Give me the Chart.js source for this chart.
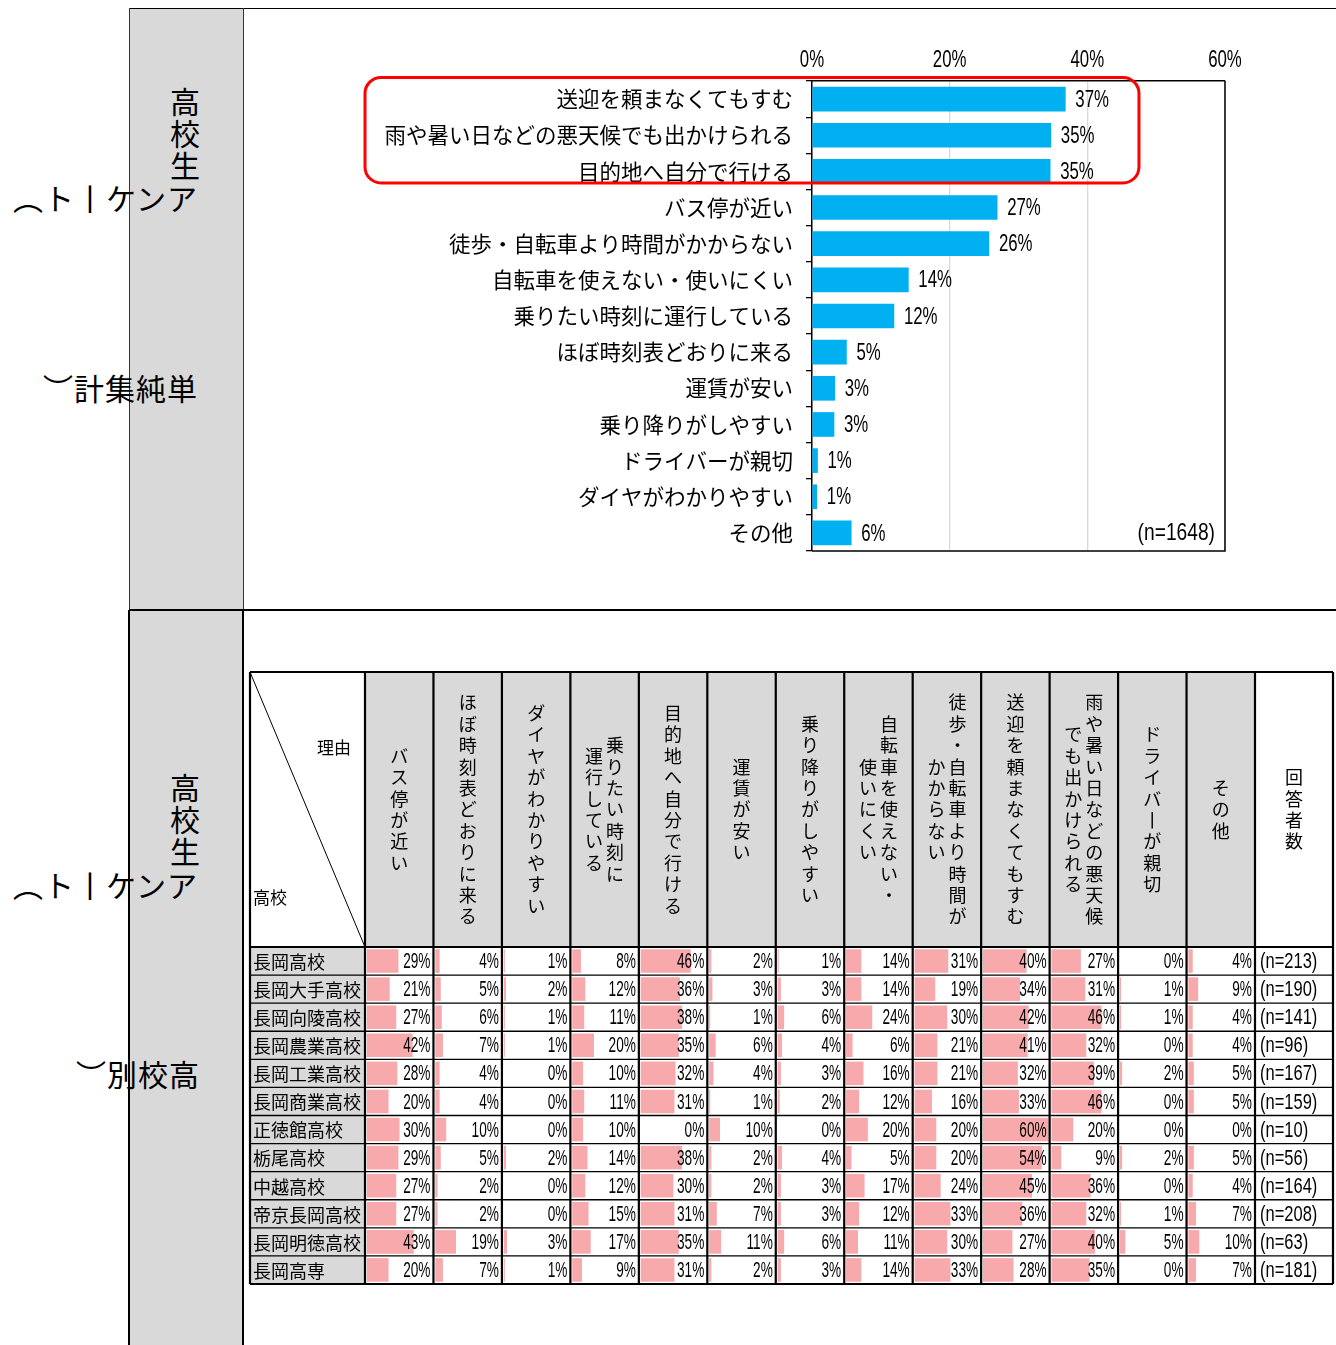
<!DOCTYPE html>
<html lang="ja"><head><meta charset="utf-8">
<script src="https://cdn.jsdelivr.net/npm/chart.js@4.4.0/dist/chart.umd.min.js"></script>
<style>
html,body{margin:0;padding:0;background:#fff;}
body{width:1336px;height:1345px;position:relative;overflow:hidden;font-family:"Noto Sans CJK JP",sans-serif;color:#000;}
.a{position:absolute;}
.ln{position:absolute;background:#000;}
.big{position:absolute;font-size:30px;line-height:33px;white-space:nowrap;letter-spacing:1px;}
.vt{position:absolute;font-size:30px;line-height:32px;width:34px;text-align:center;}
canvas{position:absolute;}
</style></head><body>
<div class="a" style="left:129px;top:8px;width:114px;height:1337px;background:#d9d9d9"></div>
<div class="ln" style="left:129px;top:8px;width:1207px;height:1.3px"></div>
<div class="ln" style="left:128.5px;top:8px;width:1.3px;height:602px;background:#333"></div>
<div class="ln" style="left:242.5px;top:8px;width:1.3px;height:602px;background:#333"></div>
<div class="ln" style="left:129px;top:609px;width:1207px;height:1.5px"></div>
<div class="ln" style="left:128px;top:610px;width:2px;height:735px"></div>
<div class="ln" style="left:242px;top:610px;width:2px;height:735px"></div>

<div class="vt" style="left:168px;top:84px">高<br>校<br>生</div>
<div class="big" style="right:1138px;top:181px">︵ト丨ケンア</div>
<div class="big" style="right:1138px;top:371px">︶計集純単</div>
<div class="vt" style="left:168px;top:770px">高<br>校<br>生</div>
<div class="big" style="right:1138px;top:868px">︵ト丨ケンア</div>
<div class="big" style="right:1136px;top:1057px">︶別校高</div>

<canvas id="topChart" width="1092" height="599" style="left:244px;top:9px"></canvas>
<canvas id="tableChart" width="1091" height="678" style="left:245px;top:612px"></canvas>

<script>
// ---------- Top chart data ----------
const reasons = ['送迎を頼まなくてもすむ', '雨や暑い日などの悪天候でも出かけられる', '目的地へ自分で行ける', 'バス停が近い', '徒歩・自転車より時間がかからない', '自転車を使えない・使いにくい', '乗りたい時刻に運行している', 'ほぼ時刻表どおりに来る', '運賃が安い', '乗り降りがしやすい', 'ドライバーが親切', 'ダイヤがわかりやすい', 'その他'];
const shares = [36.8, 34.7, 34.6, 26.9, 25.7, 14.0, 11.9, 5.0, 3.3, 3.2, 0.8, 0.7, 5.7];
const xTickValues = [0, 20, 40, 60];
const totalRespondents = '(n=1648)';

// ---------- Table data ----------
const schools = ['長岡高校', '長岡大手高校', '長岡向陵高校', '長岡農業高校', '長岡工業高校', '長岡商業高校', '正徳館高校', '栃尾高校', '中越高校', '帝京長岡高校', '長岡明徳高校', '長岡高専'];
const tableColumns = ['バス停が近い', 'ほぼ時刻表どおりに来る', 'ダイヤがわかりやすい', '乗りたい時刻に\n運行している', '目的地へ自分で行ける', '運賃が安い', '乗り降りがしやすい', '自転車を使えない・\n使いにくい', '徒歩・自転車より時間が\nかからない', '送迎を頼まなくてもすむ', '雨や暑い日などの悪天候\nでも出かけられる', 'ドライバーが親切', 'その他'];
const busStopNear   = [29, 21, 27, 42, 28, 20, 30, 29, 27, 27, 43, 20];
const onSchedule    = [4, 5, 6, 7, 4, 4, 10, 5, 2, 2, 19, 7];
const easyTimetable = [1, 2, 1, 1, 0, 0, 0, 2, 0, 0, 3, 1];
const runsWhenWanted= [8, 12, 11, 20, 10, 11, 10, 14, 12, 15, 17, 9];
const goOnMyOwn     = [46, 36, 38, 35, 32, 31, 0, 38, 30, 31, 35, 31];
const cheapFare     = [2, 3, 1, 6, 4, 1, 10, 2, 2, 7, 11, 2];
const easyBoarding  = [1, 3, 6, 4, 3, 2, 0, 4, 3, 3, 6, 3];
const noBicycle     = [14, 14, 24, 6, 16, 12, 20, 5, 17, 12, 11, 14];
const fasterThanWalk= [31, 19, 30, 21, 21, 16, 20, 20, 24, 33, 30, 33];
const noPickup      = [40, 34, 42, 41, 32, 33, 60, 54, 45, 36, 27, 28];
const badWeather    = [27, 31, 46, 32, 39, 46, 20, 9, 36, 32, 40, 35];
const kindDriver    = [0, 1, 1, 0, 2, 0, 0, 2, 0, 1, 5, 0];
const otherReason   = [4, 9, 4, 4, 5, 5, 0, 5, 4, 7, 10, 7];
const respondents   = [213, 190, 141, 96, 167, 159, 10, 56, 164, 208, 63, 181];
const columnValues = [busStopNear, onSchedule, easyTimetable, runsWhenWanted, goOnMyOwn, cheapFare, easyBoarding, noBicycle, fasterThanWalk, noPickup, badWeather, kindDriver, otherReason];

// ---------- helpers ----------
const JP = '"Noto Sans CJK JP", "Noto Sans", sans-serif';
const NUM = '"Liberation Sans", Arial, sans-serif';
function condText(ctx, txt, x, y, align, size, sx) {
  ctx.save();
  ctx.font = size + 'px ' + NUM;
  ctx.textBaseline = 'middle';
  ctx.textAlign = 'left';
  ctx.fillStyle = '#000';
  const w = ctx.measureText(txt).width * sx;
  const x0 = align === 'left' ? x : (align === 'right' ? x - w : x - w / 2);
  ctx.translate(x0, y);
  ctx.scale(sx, 1);
  ctx.fillText(txt, 0, 0);
  ctx.restore();
}

// ---------- Top chart ----------
const topPlugin = {
  id: 'topDeco',
  afterDraw(chart) {
    const { ctx, chartArea: ca, scales: { x, y } } = chart;
    ctx.save();
    ctx.strokeStyle = '#000'; ctx.lineWidth = 1.5;
    ctx.beginPath();
    ctx.moveTo(ca.right, ca.top); ctx.lineTo(ca.right, ca.bottom); ctx.lineTo(ca.left, ca.bottom);
    ctx.stroke();
    xTickValues.forEach(v => condText(ctx, v + '%', x.getPixelForValue(v), ca.top - 21, 'center', 24, 0.7));
    const meta = chart.getDatasetMeta(0);
    meta.data.forEach((bar, i) => condText(ctx, Math.round(shares[i]) + '%', bar.x + 10, bar.y + 1, 'left', 24, 0.7));
    condText(ctx, totalRespondents, ca.right - 10, y.getPixelForValue(reasons.length - 1), 'right', 24, 0.8);
    const rowH = (ca.bottom - ca.top) / reasons.length;
    const top = y.getPixelForValue(0) - rowH * 0.6;
    const bottom = y.getPixelForValue(2) + rowH * 0.32;
    const left = ca.left - 447;
    const right = x.getPixelForValue(47.5);
    ctx.strokeStyle = '#ff0000'; ctx.lineWidth = 3;
    ctx.beginPath();
    ctx.roundRect(left, top, right - left, bottom - top, 16);
    ctx.stroke();
    ctx.restore();
  }
};

new Chart(document.getElementById('topChart'), {
  type: 'bar',
  data: { labels: reasons, datasets: [{ data: shares, backgroundColor: '#00B0F0', barThickness: 24, borderWidth: 0 }] },
  options: {
    indexAxis: 'y', responsive: false, animation: false, devicePixelRatio: 1,
    layout: { padding: { left: 0, right: 111, top: 72, bottom: 57 } },
    plugins: { legend: { display: false }, tooltip: { enabled: false } },
    scales: {
      x: {
        position: 'top', min: 0, max: 60,
        ticks: { display: false, stepSize: 20 },
        grid: { color: '#d9d9d9', lineWidth: 1.3, drawTicks: false },
        border: { display: true, color: '#000', width: 1.5 },
        afterFit(s) { s.height = 0; }
      },
      y: {
        ticks: { font: { family: JP, size: 21.5 }, color: '#000', padding: 13, autoSkip: false },
        grid: { drawOnChartArea: false, color: '#000', tickLength: 6, lineWidth: 1.3, offset: true },
        border: { display: true, color: '#000', width: 1.5 },
        afterFit(s) { s.width = 568; }
      }
    }
  },
  plugins: [topPlugin]
});

// ---------- Table chart ----------
const COLW = 60;
const BAR0 = 1.6, BARK = 0.955;
const HEAD_H = 275, NAME_W = 115, N_W = 78, PITCH = 21.4;

function drawVertical(ctx, text, cx, cy) {
  const lines = text.split('\n');
  const n = lines.length;
  lines.forEach((ln, k) => {
    const lx = cx + ((n - 1) / 2 - k) * 21;
    const chars = [...ln];
    const total = chars.length * PITCH;
    chars.forEach((ch, c) => {
      const yy = cy - total / 2 + PITCH * (c + 0.5);
      ctx.fillText(ch === 'ー' ? '丨' : ch, lx, yy);
    });
  });
}

const tablePlugin = {
  id: 'tableDeco',
  beforeDatasetsDraw(chart) {
    const { ctx, chartArea: ca } = chart;
    const headTop = ca.top - HEAD_H, left = ca.left - NAME_W;
    ctx.save();
    ctx.fillStyle = '#d9d9d9';
    ctx.fillRect(ca.left, headTop, ca.right - ca.left, HEAD_H);
    ctx.fillRect(left, ca.top, NAME_W, ca.bottom - ca.top);
    ctx.restore();
  },
  afterDatasetsDraw(chart) {
    const { ctx, chartArea: ca, scales: { x, y } } = chart;
    const headTop = ca.top - HEAD_H, left = ca.left - NAME_W, right = ca.right + N_W;
    const rowH = (ca.bottom - ca.top) / schools.length;
    ctx.save();
    ctx.strokeStyle = '#000';
    ctx.lineWidth = 1.4;
    for (let i = 1; i < schools.length; i++) {
      const yy = ca.top + i * rowH;
      ctx.beginPath(); ctx.moveTo(left, yy); ctx.lineTo(right, yy); ctx.stroke();
    }
    ctx.lineWidth = 2.2;
    [headTop, ca.top, ca.bottom].forEach(yy => { ctx.beginPath(); ctx.moveTo(left, yy); ctx.lineTo(right, yy); ctx.stroke(); });
    const xs = [left, right];
    for (let j = 0; j <= tableColumns.length; j++) xs.push(x.getPixelForValue(j * COLW));
    xs.forEach(xx => { ctx.beginPath(); ctx.moveTo(xx, headTop); ctx.lineTo(xx, ca.bottom); ctx.stroke(); });
    ctx.lineWidth = 1;
    ctx.beginPath(); ctx.moveTo(left, headTop); ctx.lineTo(ca.left, ca.top); ctx.stroke();

    ctx.fillStyle = '#000';
    ctx.font = '17px ' + JP;
    ctx.textBaseline = 'middle';
    ctx.textAlign = 'right'; ctx.fillText('理由', ca.left - 14, headTop + 76);
    ctx.textAlign = 'left'; ctx.fillText('高校', left + 3, headTop + 226);

    ctx.font = '18px ' + JP;
    ctx.textAlign = 'center';
    const cy = headTop + HEAD_H / 2;
    tableColumns.forEach((name, j) => {
      const cx = (x.getPixelForValue(j * COLW) + x.getPixelForValue((j + 1) * COLW)) / 2;
      drawVertical(ctx, name, cx, cy);
    });
    drawVertical(ctx, '回答者数', (ca.right + right) / 2, cy);

    ctx.textAlign = 'left';
    ctx.font = '18px ' + JP;
    schools.forEach((s, i) => ctx.fillText(s, left + 3, y.getPixelForValue(i) + 1));

    columnValues.forEach((vals, j) => {
      const rx = x.getPixelForValue((j + 1) * COLW) - 3;
      vals.forEach((v, i) => condText(ctx, v + '%', rx, y.getPixelForValue(i) + 1, 'right', 22, 0.62));
    });
    respondents.forEach((n, i) => condText(ctx, '(n=' + n + ')', ca.right + 5, y.getPixelForValue(i) + 1, 'left', 22, 0.75));
    ctx.restore();
  }
};

new Chart(document.getElementById('tableChart'), {
  type: 'bar',
  data: {
    labels: schools,
    datasets: columnValues.map((vals, j) => ({
      label: tableColumns[j],
      data: vals.map(v => [j * COLW + BAR0, j * COLW + BAR0 + v * BARK]),
      backgroundColor: 'rgb(248,169,171)',
      borderWidth: 0,
      grouped: false,
      barPercentage: 0.84,
      categoryPercentage: 1
    }))
  },
  options: {
    indexAxis: 'y', responsive: false, animation: false, devicePixelRatio: 1,
    layout: { padding: { left: 120, right: 81, top: 335, bottom: 6 } },
    plugins: { legend: { display: false }, tooltip: { enabled: false } },
    scales: {
      x: { type: 'linear', min: 0, max: tableColumns.length * COLW, display: false },
      y: { type: 'category', display: false, offset: true }
    }
  },
  plugins: [tablePlugin]
});
</script>
</body></html>
